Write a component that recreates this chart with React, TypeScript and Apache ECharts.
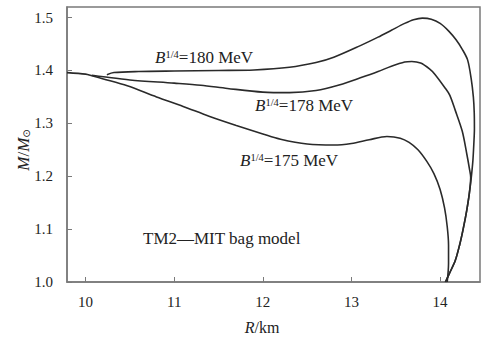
import React, { useEffect, useRef } from "react";
import * as echarts from "echarts";

const xTicks = [10, 11, 12, 13, 14];
const yTicks = [1.0, 1.1, 1.2, 1.3, 1.4, 1.5];

const curve180: [number, number][] = [
  [10.24, 1.392], [10.32, 1.396], [10.6, 1.398], [11.0, 1.399], [11.5, 1.4],
  [11.9, 1.401], [12.3, 1.406], [12.6, 1.415], [12.8, 1.425], [13.1, 1.447],
  [13.3, 1.463], [13.45, 1.476], [13.6, 1.489], [13.7, 1.496], [13.8, 1.499],
  [13.9, 1.497], [14.0, 1.489], [14.1, 1.474], [14.18, 1.458], [14.25, 1.44],
  [14.31, 1.42], [14.35, 1.385], [14.375, 1.35], [14.385, 1.32], [14.387, 1.29],
  [14.38, 1.26], [14.37, 1.23], [14.35, 1.195], [14.33, 1.168], [14.3, 1.135],
  [14.26, 1.1], [14.22, 1.07], [14.17, 1.04], [14.11, 1.018], [14.06, 1.0],
];

const curve178: [number, number][] = [
  [10.07, 1.391], [10.2, 1.388], [10.5, 1.382], [11.0, 1.376], [11.3, 1.372],
  [11.6, 1.366], [12.0, 1.359], [12.3, 1.358], [12.6, 1.362], [12.87, 1.373],
  [13.1, 1.386], [13.3, 1.398], [13.45, 1.408], [13.6, 1.416], [13.68, 1.417],
  [13.78, 1.414], [13.88, 1.403], [13.94, 1.393], [14.06, 1.366], [14.11, 1.353],
  [14.17, 1.325], [14.25, 1.285], [14.3, 1.243], [14.33, 1.215], [14.345, 1.198],
  [14.33, 1.168], [14.3, 1.135], [14.26, 1.1], [14.22, 1.07], [14.17, 1.04],
  [14.11, 1.018], [14.06, 1.0],
];

const curve175: [number, number][] = [
  [9.79, 1.396], [10.0, 1.393], [10.07, 1.39], [10.2, 1.384], [10.47, 1.371],
  [10.8, 1.35], [11.1, 1.332], [11.4, 1.313], [11.7, 1.296], [12.0, 1.28],
  [12.2, 1.27], [12.5, 1.261], [12.8, 1.259], [13.0, 1.262], [13.2, 1.269],
  [13.4, 1.275], [13.55, 1.272], [13.65, 1.264], [13.75, 1.25], [13.85, 1.228],
  [13.93, 1.205], [14.0, 1.175], [14.05, 1.14], [14.08, 1.105], [14.095, 1.07],
  [14.095, 1.035], [14.08, 1.0],
];

const curves = [
  { name: "180", data: curve180 },
  { name: "178", data: curve178 },
  { name: "175", data: curve175 },
];

const SERIF = "'Liberation Serif', 'Times New Roman', serif";
const AXIS = "#7a7a7a";
const TEXT = "#222";

const bRich = {
  i: { fontStyle: "italic", fontSize: 17, fontFamily: SERIF, fill: TEXT, color: TEXT },
  s: { fontSize: 10.5, fontFamily: SERIF, verticalAlign: "top", fill: TEXT, color: TEXT },
  n: { fontSize: 17, fontFamily: SERIF, fill: TEXT, color: TEXT },
};

function bLabel(text: string, x: number, y: number) {
  return {
    type: "text",
    x,
    y,
    style: {
      text: `{i|B}{s|1/4}{n|=${text} MeV}`,
      rich: bRich,
      fill: TEXT,
      verticalAlign: "middle",
    },
  };
}

export default function App() {
  const ref = useRef<HTMLDivElement>(null);
  useEffect(() => {
    if (!ref.current) return;
    const chart = echarts.init(ref.current, null, { renderer: "svg" });
    chart.setOption({
      animation: false,
      grid: {
        left: 67, top: 7, right: 1, bottom: 55,
        show: true, borderColor: AXIS, borderWidth: 1.5,
      },
      xAxis: {
        type: "value",
        min: 9.79,
        max: 14.45,
        axisLine: { show: true, onZero: false, lineStyle: { color: AXIS, width: 1.5 } },
        axisTick: { show: true, inside: true, length: 5, customValues: xTicks, lineStyle: { color: AXIS } },
        axisLabel: { customValues: xTicks, margin: 12, fontFamily: SERIF, fontSize: 15, color: TEXT },
        splitLine: { show: false },
      },
      yAxis: {
        type: "value",
        min: 1.0,
        max: 1.52,
        axisLine: { show: true, onZero: false, lineStyle: { color: AXIS, width: 1.5 } },
        axisTick: { show: true, inside: true, length: 5, customValues: yTicks, lineStyle: { color: AXIS } },
        axisLabel: {
          customValues: yTicks, margin: 14, fontFamily: SERIF, fontSize: 15, color: TEXT,
          formatter: (v: number) => v.toFixed(1),
        },
        splitLine: { show: false },
      },
      series: curves.map((c) => ({
        type: "line",
        name: c.name,
        data: c.data,
        showSymbol: false,
        symbol: "none",
        smooth: 0.3,
        lineStyle: { color: "#2a2a2a", width: 1.6 },
      })),
      graphic: [
        bLabel("180", 155, 57),
        bLabel("178", 255, 105),
        bLabel("175", 240, 160),
        {
          type: "text",
          x: 143,
          y: 238,
          style: {
            text: "TM2—MIT bag model",
            font: `17px ${SERIF}`,
            fill: TEXT,
            verticalAlign: "middle",
          },
        },
        {
          type: "text",
          x: 262,
          y: 327,
          style: {
            text: "{i|R}{n|/km}",
            rich: {
              i: { fontStyle: "italic", fontSize: 16, fontFamily: SERIF, fill: TEXT },
              n: { fontSize: 16, fontFamily: SERIF, fill: TEXT },
            },
            fill: TEXT,
            align: "center",
            verticalAlign: "middle",
          },
        },
        {
          type: "text",
          x: 23,
          y: 150,
          rotation: Math.PI / 2,
          style: {
            text: "{i|M}{n|/}{i|M}{s|⊙}",
            rich: {
              i: { fontStyle: "italic", fontSize: 17, fontFamily: SERIF, fill: TEXT },
              n: { fontSize: 17, fontFamily: SERIF, fill: TEXT },
              s: { fontSize: 10, fontFamily: "'DejaVu Sans', sans-serif", fill: TEXT, verticalAlign: "bottom" },
            },
            fill: TEXT,
            align: "center",
            verticalAlign: "middle",
          },
        },
      ],
    });
    return () => chart.dispose();
  }, []);
  return (
    <div
      ref={ref}
      style={{ position: "absolute", left: 0, top: 0, width: 481, height: 337, background: "#fff" }}
    />
  );
}
